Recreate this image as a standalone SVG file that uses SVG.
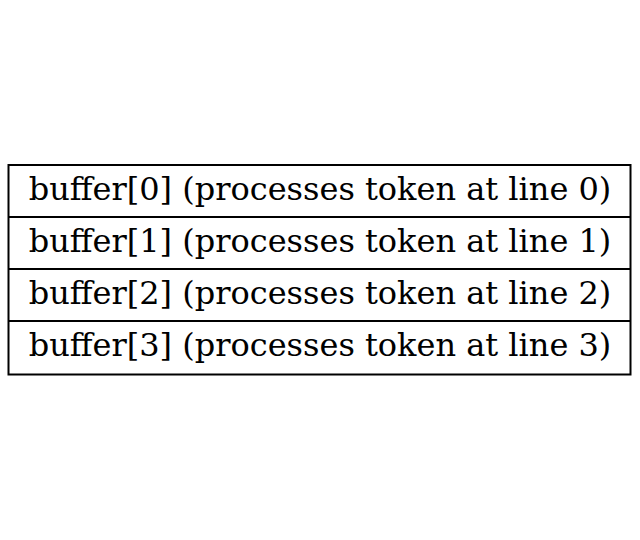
<svg xmlns="http://www.w3.org/2000/svg" width="640" height="540" viewBox="0 0 640 540">
<style>
.t{font-family:"DejaVu Serif",serif;font-size:32px;fill:#000;text-anchor:middle}
.b{fill:none;stroke:#000;stroke-width:2}
</style>
<rect width="640" height="540" fill="#fff"/>
<g id="buffer">
<rect class="b" x="8.5" y="165" width="622" height="209.5"/>
<line class="b" x1="8.5" y1="217" x2="630.5" y2="217"/>
<line class="b" x1="8.5" y1="269" x2="630.5" y2="269"/>
<line class="b" x1="8.5" y1="321" x2="630.5" y2="321"/>
<text class="t" x="320" y="200">buffer[0] (processes token at line 0)</text>
<text class="t" x="320" y="252">buffer[1] (processes token at line 1)</text>
<text class="t" x="320" y="304">buffer[2] (processes token at line 2)</text>
<text class="t" x="320" y="356">buffer[3] (processes token at line 3)</text>
</g>
<g id="connectors"></g>
</svg>
